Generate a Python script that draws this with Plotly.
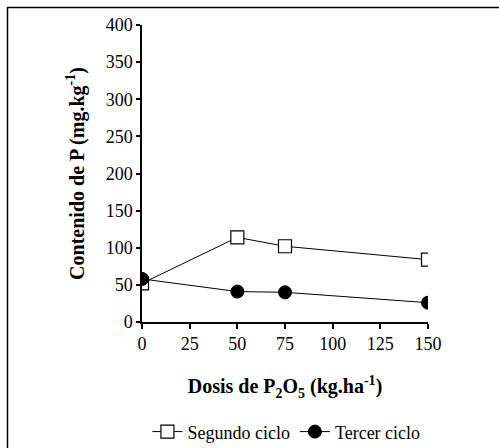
import plotly.graph_objects as go

dosis = [0, 50, 75, 150]
segundo_ciclo = [52, 114, 102, 84]
tercer_ciclo = [58, 41, 40, 26]
x_ticks = [0, 25, 50, 75, 100, 125, 150]
y_ticks = [0, 50, 100, 150, 200, 250, 300, 350, 400]

W, H = 499, 448
L, R, T, B = 142, 71, 25, 126
FAM = "'Liberation Serif', 'Times New Roman', serif"

fig = go.Figure()
fig.add_trace(go.Scatter(
    x=dosis, y=segundo_ciclo, name="Segundo ciclo", mode="lines+markers",
    line=dict(color="black", width=1),
    marker=dict(symbol="square", size=13, color="white", line=dict(color="black", width=1.2)),
))
fig.add_trace(go.Scatter(
    x=dosis, y=tercer_ciclo, name="Tercer ciclo", mode="lines+markers",
    line=dict(color="black", width=1),
    marker=dict(symbol="circle", size=13, color="black", line=dict(color="black", width=1)),
))

fig.update_layout(
    width=W, height=H,
    margin=dict(l=L, r=R, t=T, b=B, autoexpand=False),
    paper_bgcolor="white", plot_bgcolor="white",
    font=dict(family=FAM, size=18, color="black"),
    showlegend=True,
    legend=dict(orientation="h", x=0.505, xanchor="center", y=-0.37, yanchor="middle",
                font=dict(family=FAM, size=18, color="black"), itemwidth=30,
                bgcolor="rgba(0,0,0,0)"),
    xaxis=dict(range=[0, 150], tickvals=x_ticks, showgrid=False, zeroline=False,
               showline=True, linecolor="black", linewidth=1.5,
               ticks="outside", ticklen=5, tickcolor="black", tickwidth=1.5,
               title=dict(text="<b>Dosis de P<sub>2</sub>O<sub>5</sub> (kg.ha<sup>-1</sup>)</b>",
                          standoff=26, font=dict(family=FAM, size=20, color="black")),
               tickfont=dict(family=FAM, size=18, color="black")),
    yaxis=dict(range=[0, 400], tickvals=y_ticks, showgrid=False, zeroline=False,
               showline=True, linecolor="black", linewidth=1.5,
               ticks="outside", ticklen=4, tickcolor="black", tickwidth=1.5,
               title=dict(text="<b>Contenido de P (mg.kg<sup>-1</sup>)</b>",
                          standoff=16, font=dict(family=FAM, size=20, color="black")),
               tickfont=dict(family=FAM, size=18, color="black")),
)

pw = W - L - R
ph = H - T - B
def px(x):
    return (x - L) / pw
def py(y):
    return (H - B - y) / ph

fig.add_shape(type="line", xref="paper", yref="paper",
              x0=px(7), x1=px(W + 5), y0=py(7.5), y1=py(7.5),
              line=dict(color="black", width=1.5))
fig.add_shape(type="line", xref="paper", yref="paper",
              x0=px(7.5), x1=px(7.5), y0=py(7), y1=py(H + 5),
              line=dict(color="black", width=1.5))

fig.write_html("out.html", config={"displayModeBar": False},
               post_script="document.body.style.margin='0';document.body.style.overflow='hidden';")
